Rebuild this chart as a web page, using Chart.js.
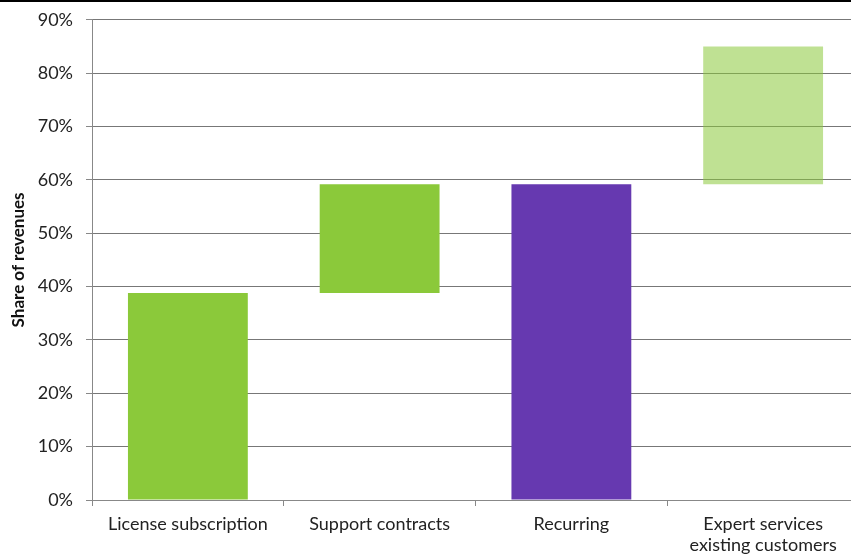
<!DOCTYPE html>
<html>
<head>
<meta charset="utf-8">
<script src="https://cdn.jsdelivr.net/npm/chart.js@4"></script>
<style>
  html, body { margin: 0; padding: 0; background: #fff; overflow: hidden; }
  #topRule { position: absolute; left: 0; top: 0; width: 100%; height: 2px; background: #000; z-index: 2; }
  #wrap { position: absolute; left: 0; top: -4px; width: 860px; height: 563px; }
</style>
</head>
<body>
<div id="topRule"></div>
<div id="wrap"><canvas id="revChart"></canvas></div>
<script>
// revenue build-up, values in percent of revenues
const categories = ['License subscription', 'Support contracts', 'Recurring', ['Expert services', 'existing customers']];
const barStart = [0, 38.8, 0, 59.2];
const barEnd = [38.8, 59.2, 59.2, 85];
const barColors = ['#8BC93A', '#8BC93A', '#6639B0', 'rgba(139,201,58,0.55)'];
const yTicks = [0, 10, 20, 30, 40, 50, 60, 70, 80, 90];

const FONT = 'Lato, "Noto Sans", sans-serif';

let ranges = barStart.map((s, i) => [s, barEnd[i]]);

let ctx = document.getElementById('revChart').getContext('2d');
let revChart = new Chart(ctx, {
    type: 'bar',
    data: {
        labels: categories,
        datasets: [{
            data: ranges,
            backgroundColor: barColors,
            borderWidth: 0,
            barPercentage: 0.625,
            categoryPercentage: 1
        }]
    },
    options: {
        responsive: true,
        maintainAspectRatio: false,
        animation: false,
        layout: { padding: { top: 15, right: 1, bottom: 0, left: 0 } },
        plugins: {
            legend: { display: false },
            tooltip: { enabled: false }
        },
        scales: {
            x: {
                grid: {
                    offset: true,
                    drawOnChartArea: false,
                    drawTicks: true,
                    tickLength: 6,
                    tickColor: '#888',
                    tickWidth: 1
                },
                border: { color: '#888', width: 1 },
                ticks: {
                    color: '#222',
                    font: { family: FONT, size: 18 },
                    padding: 7,
                    maxRotation: 0,
                    autoSkip: false
                },
                afterFit: function(scale) { scale.height = 59; }
            },
            y: {
                min: 0,
                max: 90,
                afterBuildTicks: function(scale) {
                    scale.ticks = yTicks.map(v => ({ value: v }));
                },
                grid: {
                    color: '#777',
                    lineWidth: 1,
                    borderDash: [3, 1],
                    tickLength: 6,
                    tickColor: '#888',
                    tickBorderDash: []
                },
                border: { color: '#888', width: 1 },
                ticks: {
                    color: '#222',
                    font: { family: FONT, size: 18 },
                    padding: 13,
                    callback: v => v + '%'
                },
                title: {
                    display: true,
                    text: 'Share of revenues',
                    color: '#111',
                    font: { family: FONT, size: 17, weight: 'bold' },
                    padding: { top: 8, bottom: 0 }
                },
                afterFit: function(scale) { scale.width = 92; }
            }
        }
    }
});
</script>
</body>
</html>
